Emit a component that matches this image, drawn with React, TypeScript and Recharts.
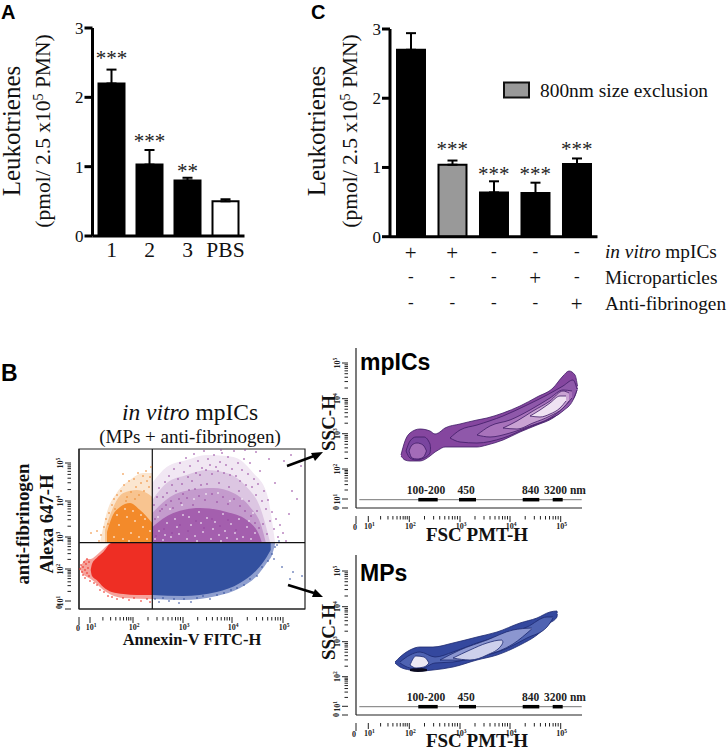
import { ReactNode } from "react";
import {
  Area,
  Bar,
  Cell,
  ComposedChart,
  ErrorBar,
  Line,
  ReferenceArea,
  ReferenceLine,
  Scatter,
  XAxis,
  YAxis,
} from "recharts";

const serif = "'Liberation Serif', serif";
const sans = "'Liberation Sans', sans-serif";

// panel A
const groupsA = ["1", "2", "3", "PBS"];
const valuesA = [2.2, 1.03, 0.8, 0.5];
const errorsA = [0.2, 0.21, 0.04, 0.03];
const starsA = ["***", "***", "**", ""];
const starLevelsA = [2.61, 1.41, 0.98, 0.7];
const fillsA = ["#000", "#000", "#000", "#fff"];

// panel C
const groupsC = ["a", "b", "c", "d", "e"];
const valuesC = [2.7, 1.04, 0.64, 0.63, 1.05];
const errorsC = [0.24, 0.06, 0.16, 0.15, 0.08];
const starsC = ["", "***", "***", "***", "***"];
const starLevelsC = [2.9, 1.31, 0.95, 0.95, 1.31];
const fillsC = ["#000", "#999", "#000", "#000", "#000"];
const rowMpics = ["+", "+", "-", "-", "-"];
const rowParticles = ["-", "-", "-", "+", "-"];
const rowAntibody = ["-", "-", "-", "-", "+"];

// flow plots, in display channels (0-226 across, 0-160 up)
type Band = [number, number, number];
type Pt = [number, number];

const redHaze: Band[] = [
  [1, 40, 41], [3, 36, 45], [8, 32, 50], [11.7, 30, 50], [17.7, 25, 54], [24.3, 19, 60], [32.7, 14, 66], [44.3, 11, 66], [73.3, 10, 66],
];
const redCore: Band[] = [
  [11.7, 39, 39], [13, 33, 45], [17.7, 29, 51], [24.3, 22, 57], [32.7, 17, 66], [44.3, 15, 66], [57.7, 14, 66], [73.3, 14, 66],
];
const blueHaze: Band[] = [
  [73.3, 10, 66], [104, 9, 66], [137.7, 13, 66], [161, 21, 66], [177.7, 33, 66], [187.7, 46, 66], [193.7, 56, 66], [196, 65, 66],
];
const blueCore: Band[] = [
  [73.3, 14, 66], [104, 13, 66], [137.7, 17, 66], [161, 26, 66], [177.7, 39, 66], [187.7, 52, 66], [191.7, 59, 66],
];
const orangeLevel1: Band[] = [
  [21, 66, 66], [27.7, 66, 96], [37.7, 66, 116], [51, 66, 129], [64.3, 66, 136], [73.3, 66, 136],
];
const orangeLevel2: Band[] = [
  [26, 66, 79], [34.3, 66, 102], [44.3, 66, 116], [57.7, 66, 119], [67.7, 66, 116], [73.3, 66, 112],
];
const orangeLevel3: Band[] = [
  [28, 66, 77], [33, 66, 92], [41, 66, 102], [51, 66, 106], [61, 66, 99], [73.3, 66, 86],
];
const purpleLevel1: Band[] = [
  [73.3, 66, 126], [87.7, 66, 142], [107.7, 66, 149], [127.7, 66, 154], [154.3, 66, 152], [174.3, 66, 136], [187.7, 66, 116], [196, 66, 67],
];
const purpleLevel2: Band[] = [
  [73.3, 66, 109], [87.7, 66, 126], [107.7, 66, 134], [127.7, 66, 139], [147.7, 66, 136], [167.7, 66, 122], [181, 66, 102], [191, 66, 67],
];
const purpleLevel3: Band[] = [
  [73.3, 66, 96], [91, 66, 112], [111, 66, 119], [134.3, 66, 121], [154.3, 66, 116], [171, 66, 102], [182.7, 66, 82], [186.7, 66, 67],
];
const purpleLevel4: Band[] = [
  [73.3, 66, 82], [94.3, 66, 96], [121, 66, 101], [147.7, 66, 97], [167.7, 66, 89], [181, 66, 72], [182.7, 66, 67],
];

const redDots: Pt[] = [
  [1, 40], [2, 44], [3, 37], [4, 42], [4, 34], [5, 47], [6, 39], [6, 31], [7, 45], [8, 36], [8, 50], [9, 41], [10, 33], [10, 47], [11, 28],
  [15, 26], [18, 24], [21, 19], [25, 17], [29, 13], [33, 12], [38, 10], [44, 11], [50, 9], [55, 11], [62, 8], [68, 10], [71, 7],
];
const blueDots: Pt[] = [
  [76, 10], [80, 7], [84, 11], [90, 8], [95, 10], [100, 6], [105, 10], [112, 7], [118, 11], [124, 13], [131, 10], [138, 14], [145, 16], [152, 19],
  [158, 21], [165, 24], [171, 30], [178, 33], [183, 42], [189, 48], [193, 55], [196, 62], [198, 64], [195, 50], [200, 68], [203, 42], [211, 30], [214, 37], [223, 33],
];
const orangeDots: Pt[] = [
  [20, 68], [22, 74], [25, 82], [27, 90], [30, 96], [33, 104], [35, 110], [38, 114], [42, 118], [45, 124], [48, 112], [50, 128], [52, 117], [55, 130], [57, 122],
  [59, 136], [60, 114], [62, 126], [64, 133], [65, 118], [67, 138], [68, 128], [70, 122], [71, 132], [72, 142], [56, 110], [47, 108], [36, 100], [44, 135], [29, 85], [12, 76], [18, 78],
];
const purpleDots: Pt[] = [
  [75, 104], [78, 112], [80, 121], [83, 100], [86, 127], [88, 116], [90, 133], [93, 124], [95, 140], [97, 118], [99, 130], [101, 146], [103, 125], [105, 137], [107, 151],
  [109, 132], [111, 143], [113, 128], [115, 155], [117, 136], [119, 148], [121, 134], [123, 141], [125, 158], [127, 139], [129, 150], [131, 144], [133, 135], [135, 154], [137, 142],
  [139, 138], [141, 147], [143, 156], [145, 136], [147, 144], [149, 152], [151, 134], [153, 140], [155, 158], [157, 133], [159, 146], [161, 128], [163, 139], [165, 150], [167, 124],
  [169, 135], [171, 146], [173, 122], [175, 130], [177, 114], [179, 125], [181, 138], [183, 108], [185, 118], [187, 100], [189, 109], [191, 88], [193, 97], [195, 80], [197, 90],
  [199, 72], [201, 84], [204, 76], [207, 68], [210, 95], [213, 118], [218, 110], [222, 143], [212, 154], [205, 148], [196, 126], [190, 150], [177, 157], [166, 159], [142, 159],
  [84, 112], [92, 108], [104, 115], [116, 120], [128, 125], [140, 126], [150, 122], [160, 118], [170, 108], [178, 98], [184, 85], [188, 75], [100, 110], [110, 119], [122, 124],
  [76, 90], [81, 98], [87, 104], [94, 101], [102, 106], [108, 111], [114, 104], [120, 113], [126, 109], [133, 115], [138, 107], [144, 112], [149, 105], [155, 110], [161, 103],
  [166, 98], [172, 93], [176, 86], [180, 81], [77, 73], [85, 80], [93, 76], [101, 84], [109, 78], [117, 88], [125, 81], [133, 90], [141, 83], [149, 89], [157, 79],
];
const purpleSpecks: Pt[] = [
  [76, 70], [80, 78], [84, 69], [88, 86], [92, 72], [96, 90], [100, 75], [104, 94], [108, 70], [112, 84], [116, 73], [120, 97], [124, 77], [128, 91], [132, 70],
  [136, 87], [140, 74], [144, 95], [148, 71], [152, 85], [156, 76], [160, 90], [164, 72], [168, 82], [172, 70], [176, 76], [79, 92], [91, 100], [103, 104], [115, 110],
  [127, 115], [139, 116], [151, 108], [163, 110], [174, 96], [98, 82], [110, 92], [122, 86], [134, 80], [146, 78], [158, 70], [170, 88], [86, 74], [118, 68], [142, 68],
];
const orangeSpecks: Pt[] = [
  [35, 72], [40, 84], [44, 70], [48, 92], [52, 76], [56, 88], [60, 72], [64, 82], [68, 70], [71, 78], [38, 94], [46, 100], [54, 98], [62, 94], [66, 90], [50, 68],
];

const ticksXDot = [11, 54, 104, 153, 204];
const ticksYDot = [8, 40, 72, 108, 146];
const ticksXTop = [12.3, 53.3, 104, 154, 204.7];
const ticksYTop = [9, 39, 74.3, 109.3, 145];
const ticksYBottom = [8.7, 38.3, 73.3, 108.3, 144];
const decadeSteps = [0.3, 0.48, 0.6, 0.7, 0.78, 0.85, 0.9, 0.95];

// mpICs contours
const mpOuter: Band[] = [
  [45, 52, 53], [49, 48, 67], [54, 47, 75], [64, 47, 79], [74, 52, 77], [79, 56, 74], [82.3, 58, 75], [89, 61, 80], [104, 61, 84], [121, 61, 88], [131, 63, 90],
  [147, 68, 95], [164, 76, 102], [181, 83, 111], [197, 90, 120], [207, 98, 132], [213, 105, 137], [219, 112, 133], [221.5, 120, 122],
];
const mpBlobMid: Band[] = [[50, 57, 57], [54, 50, 67], [60, 48, 71], [68, 50, 71], [74, 55, 64], [74.5, 60, 60]];
const mpBlobIn: Band[] = [[53, 57, 57], [56, 50, 63], [61, 49, 65], [67, 50.5, 63], [70.5, 57, 57]];
const mpTail2: Band[] = [[94, 70, 70], [104, 66, 78], [121, 65, 83], [147, 70, 92], [171, 80, 103], [191, 88, 113], [207, 97, 122], [217, 108, 128], [221, 118, 119]];
const mpTail3: Band[] = [[121, 73, 73], [134, 71, 82], [154, 75, 88], [174, 82, 98], [194, 90, 110], [207, 100, 118], [216, 110, 117]];
const mpTail4: Band[] = [[147, 80, 80], [161, 79, 87], [177, 85, 97], [194, 92, 107], [207, 100, 117], [213, 107, 115]];
const mpTail5: Band[] = [[174, 92, 92], [184, 91, 98], [194, 94, 105], [204, 100, 112], [210, 107, 112]];

// MPs contours
const mvOuter: Band[] = [
  [39, 52, 53], [44, 48, 58], [54, 45, 65], [64, 44, 68], [77, 45, 68], [97, 48, 72], [121, 55, 78], [141, 60, 83], [164, 70, 92], [181, 80, 97], [194, 92, 103], [201, 98, 104], [201.3, 101, 102],
];
const mvMid: Band[] = [
  [44, 52, 53], [54, 47, 60], [64, 46, 63], [79, 52, 58], [97, 53, 63], [121, 58, 72], [147, 65, 80], [171, 77, 88], [191, 88, 98], [197, 97, 98],
];
const mvInner: Band[] = [[84, 55, 55], [104, 55, 65], [131, 60, 75], [157, 71, 85], [175.7, 86, 87]];
const mvPale: Band[] = [[97, 57, 57], [114, 55, 65], [131, 60, 72], [145.7, 70, 75], [147, 73, 73]];
const mvSpot: Band[] = [[54, 50, 50], [60, 47, 59], [68, 48, 58], [73, 52, 52]];
const mvDark: Band[] = [[54, 44, 46], [62, 43, 47], [71, 44, 46]];

// bead size scale
const sizeScaleRange = [3.3, 225.7];
const sizeScaleLevel = 8.3;
const sizeMarkers = [[62.3, 81.7], [103, 120], [166.7, 183.3], [196.7, 206.7]];

const toRows = (rows: Band[]) => rows.map(([x, lo, hi]) => ({ x, band: [lo, hi] }));
const toPoints = (rows: Pt[]) => rows.map(([x, y]) => ({ x, y }));
const withMinors = (majors: number[]) => {
  const out: number[] = [0];
  majors.forEach((m, i) => {
    out.push(m);
    const next = majors[i + 1];
    if (next) decadeSteps.forEach((s) => out.push(m + (next - m) * s));
  });
  return out;
};

function barRows(groups: string[], values: number[], errors: number[], stars: string[], levels: number[]) {
  return groups.map((g, i) => ({ g, value: values[i], err: [0, errors[i]], stars: stars[i], level: levels[i] }));
}

function starDot(props: any) {
  const { cx, cy, payload, index } = props;
  return (
    <text key={index} x={cx} y={cy + 10} textAnchor="middle" fontFamily={serif} fontSize={21} fill="#222">
      {payload.stars}
    </text>
  );
}

function BarPanel({ left, top, plotWidth, plotHeight, yWidth, rows, fills, barSize, xTick }: any) {
  return (
    <div style={{ position: "absolute", left, top }}>
      <ComposedChart width={yWidth + plotWidth + 4} height={plotHeight + 110} data={rows} margin={{ top: 10, right: 4, bottom: 0, left: 0 }}>
        <XAxis dataKey="g" interval={0} height={100} stroke="#000" strokeWidth={3} tickLine={false} tick={xTick} />
        <YAxis
          width={yWidth}
          domain={[0, 3]}
          ticks={[0, 1, 2, 3]}
          stroke="#000"
          strokeWidth={3}
          tickSize={8}
          tickMargin={1}
          tick={{ fontFamily: serif, fontSize: 17, fill: "#111" }}
        />
        <Bar dataKey="value" barSize={barSize} stroke="#000" strokeWidth={2} isAnimationActive={false}>
          {fills.map((f: string, i: number) => (
            <Cell key={i} fill={f} />
          ))}
          <ErrorBar dataKey="err" width={5} stroke="#000" strokeWidth={2} isAnimationActive={false} />
        </Bar>
        <Line dataKey="level" stroke="none" dot={starDot} activeDot={false} isAnimationActive={false} />
      </ComposedChart>
    </div>
  );
}

function labelA(props: any) {
  const { x, y, payload } = props;
  return (
    <text x={x} y={y + 13} textAnchor="middle" fontFamily={serif} fontSize={21.5} fill="#111">
      {payload.value}
    </text>
  );
}

function labelC(props: any) {
  const { x, y, index } = props;
  const rows = [rowMpics, rowParticles, rowAntibody];
  const levels = [8, 33, 59];
  return (
    <g>
      {rows.map((row, r) => {
        const plus = row[index] === "+";
        return (
          <text key={r} x={x} y={y + levels[r] + (plus ? 7 : 4)} textAnchor="middle" fontFamily={serif} fontSize={plus ? 21 : 17} fill="#111">
            {row[index]}
          </text>
        );
      })}
    </g>
  );
}

function xFlowTick(majors: number[]) {
  return (props: any) => {
    const { x, y, payload } = props;
    const i = majors.indexOf(payload.value);
    const long = i >= 0 || payload.value === 0;
    return (
      <g>
        <line x1={x} x2={x} y1={y} y2={y + (payload.value === 0 ? 8 : long ? 6 : 3.5)} stroke="#222" strokeWidth={1} />
        {i >= 0 && (
          <text x={x + 1} y={y + 13} textAnchor="middle" fontFamily={serif} fontWeight="bold" fontSize={8} fill="#222">
            10<tspan dy={-3} fontSize={5.5}>{i + 1}</tspan>
          </text>
        )}
      </g>
    );
  };
}

function yFlowTick(majors: number[]) {
  return (props: any) => {
    const { x, y, payload } = props;
    const i = majors.indexOf(payload.value);
    const long = i >= 0 || payload.value === 0;
    return (
      <g>
        <line x1={x} x2={x - (long ? 6 : 3.5)} y1={y} y2={y} stroke="#222" strokeWidth={1} />
        {i >= 0 && (
          <text transform={`translate(${x - 8} ${y}) rotate(-90)`} textAnchor="middle" fontFamily={serif} fontWeight="bold" fontSize={8} fill="#222">
            10<tspan dy={-3} fontSize={5.5}>{i + 1}</tspan>
          </text>
        )}
      </g>
    );
  };
}

function FlowChart({ left, top, xMajor, yMajor, children }: { left: number; top: number; xMajor: number[]; yMajor: number[]; children: ReactNode }) {
  return (
    <div style={{ position: "absolute", left: left - 30, top: top - 4 }}>
      <ComposedChart width={260} height={194} margin={{ top: 4, right: 4, bottom: 0, left: 0 }}>
        <XAxis
          type="number"
          dataKey="x"
          domain={[0, 226]}
          ticks={withMinors(xMajor)}
          interval={0}
          height={30}
          stroke="#222"
          strokeWidth={1.2}
          tickLine={false}
          tick={xFlowTick(xMajor)}
        />
        <YAxis
          type="number"
          domain={[0, 160]}
          ticks={withMinors(yMajor)}
          interval={0}
          width={30}
          stroke="#222"
          strokeWidth={1.2}
          tickLine={false}
          tick={yFlowTick(yMajor)}
        />
        {children}
      </ComposedChart>
    </div>
  );
}

const band = (key: string, rows: Band[], fill: string, stroke = "none") => (
  <Area
    key={key}
    data={toRows(rows)}
    dataKey="band"
    type="monotone"
    fill={fill}
    fillOpacity={1}
    stroke={stroke}
    strokeWidth={0.8}
    dot={false}
    activeDot={false}
    isAnimationActive={false}
  />
);

const dots = (key: string, rows: Pt[], fill: string) => (
  <Scatter
    key={key}
    data={toPoints(rows)}
    dataKey="y"
    isAnimationActive={false}
    shape={(p: any) => <rect x={p.cx - 0.7} y={p.cy - 0.7} width={1.4} height={1.4} fill={fill} />}
  />
);

const beadScale = () => [
  <Line
    key="scale"
    data={sizeScaleRange.map((x) => ({ x, y: sizeScaleLevel }))}
    dataKey="y"
    stroke="#777"
    strokeWidth={1}
    dot={false}
    activeDot={false}
    isAnimationActive={false}
  />,
  ...sizeMarkers.map((m, i) => (
    <Line
      key={`bead${i}`}
      data={m.map((x) => ({ x, y: sizeScaleLevel }))}
      dataKey="y"
      stroke="#000"
      strokeWidth={3.5}
      dot={false}
      activeDot={false}
      isAnimationActive={false}
    />
  )),
];

function BeadLabels({ dy }: { dy: number }) {
  const items: [string, number][] = [["100-200", 426], ["450", 466], ["840", 530.5], ["3200 nm", 544]];
  return (
    <>
      {items.map(([t, x]) => (
        <text key={t} x={x} y={dy} fontFamily={serif} fontWeight="bold" fontSize={11.5} textAnchor={t === "3200 nm" ? "start" : "middle"} fill="#222">
          {t}
        </text>
      ))}
    </>
  );
}

function Vert({ x, y, size, bold, children }: { x: number; y: number; size: number; bold?: boolean; children: ReactNode }) {
  return (
    <text transform={`translate(${x} ${y}) rotate(-90)`} textAnchor="middle" fontFamily={serif} fontSize={size} fontWeight={bold ? "bold" : "normal"} fill="#111">
      {children}
    </text>
  );
}

function Leuko({ x1, x2, cy }: { x1: number; x2: number; cy: number }) {
  return (
    <>
      <Vert x={x1} y={cy} size={25}>Leukotrienes</Vert>
      <Vert x={x2} y={cy} size={21.5}>
        (pmol/ 2.5 x10<tspan dy={-7} fontSize={14}>5</tspan>
        <tspan dy={7}> PMN)</tspan>
      </Vert>
    </>
  );
}

function Overlay() {
  return (
    <svg width={728} height={749} style={{ position: "absolute", left: 0, top: 0, pointerEvents: "none" }}>
      <text x={1} y={18.5} fontFamily={sans} fontWeight="bold" fontSize={20} fill="#000">A</text>
      <text x={311} y={18.5} fontFamily={sans} fontWeight="bold" fontSize={20} fill="#000">C</text>
      <text x={1} y={381} fontFamily={sans} fontWeight="bold" fontSize={23} fill="#000">B</text>

      <Leuko x1={20} x2={50} cy={131} />
      <Leuko x1={325} x2={357} cy={131} />

      <rect x={504} y={82.5} width={25} height={15} fill="#999" stroke="#111" strokeWidth={2} />
      <text x={540} y={97} fontFamily={serif} fontSize={19.4} fill="#111">800nm size exclusion</text>
      <text x={605} y={258} fontFamily={serif} fontSize={19.3} fill="#111">
        <tspan fontStyle="italic">in vitro</tspan> mpICs
      </text>
      <text x={605} y={284} fontFamily={serif} fontSize={19.3} fill="#111">Microparticles</text>
      <text x={605} y={310} fontFamily={serif} fontSize={19.3} fill="#111">Anti-fibrinogen</text>

      <text x={190} y={420} textAnchor="middle" fontFamily={serif} fontSize={23.5} fill="#111">
        <tspan fontStyle="italic">in vitro</tspan> mpICs
      </text>
      <text x={190} y={443} textAnchor="middle" fontFamily={serif} fontSize={19} fill="#111">(MPs + anti-fibrinogen)</text>
      <Vert x={29} y={524} size={18.8} bold>anti-fibrinogen</Vert>
      <Vert x={52.5} y={524} size={18.7} bold>Alexa 647-H</Vert>
      <text x={192} y={645} textAnchor="middle" fontFamily={serif} fontWeight="bold" fontSize={16.5} fill="#111">Annexin-V FITC-H</text>
      <text x={78} y={631} textAnchor="middle" fontFamily={serif} fontWeight="bold" fontSize={8} fill="#222">0</text>
      <Vert x={62} y={607} size={8} bold>0</Vert>

      <line x1={287} y1={466} x2={314} y2={456} stroke="#000" strokeWidth={2.5} />
      <polygon points="323,452 311,453 315,461" fill="#000" />
      <line x1={288} y1={585} x2={314} y2={593} stroke="#000" strokeWidth={2.5} />
      <polygon points="323,597 312,597 315,589" fill="#000" />

      <text x={360} y={370} fontFamily={sans} fontWeight="bold" fontSize={23} fill="#000">mpICs</text>
      <Vert x={335} y={423} size={19} bold>SSC-H</Vert>
      <text x={477} y={541} textAnchor="middle" fontFamily={serif} fontWeight="bold" fontSize={19} fill="#111">FSC PMT-H</text>
      <text x={355} y={530} textAnchor="middle" fontFamily={serif} fontWeight="bold" fontSize={8} fill="#222">0</text>
      <Vert x={339} y={508} size={8} bold>0</Vert>
      <BeadLabels dy={494} />

      <text x={360} y={581} fontFamily={sans} fontWeight="bold" fontSize={23} fill="#000">MPs</text>
      <Vert x={335} y={632} size={19} bold>SSC-H</Vert>
      <text x={477} y={747} textAnchor="middle" fontFamily={serif} fontWeight="bold" fontSize={19} fill="#111">FSC PMT-H</text>
      <text x={354} y={737} textAnchor="middle" fontFamily={serif} fontWeight="bold" fontSize={8} fill="#222">0</text>
      <Vert x={339} y={715} size={8} bold>0</Vert>
      <BeadLabels dy={701} />
    </svg>
  );
}

export default function App() {
  return (
    <div style={{ position: "fixed", left: 0, top: 0, width: 728, height: 749, background: "#fff", overflow: "hidden" }}>
      <BarPanel
        left={0}
        top={18}
        plotWidth={152}
        plotHeight={208}
        yWidth={92.5}
        rows={barRows(groupsA, valuesA, errorsA, starsA, starLevelsA)}
        fills={fillsA}
        barSize={26}
        xTick={labelA}
      />
      <BarPanel
        left={0}
        top={19}
        plotWidth={207.5}
        plotHeight={207.7}
        yWidth={390}
        rows={barRows(groupsC, valuesC, errorsC, starsC, starLevelsC)}
        fills={fillsC}
        barSize={28}
        xTick={labelC}
      />

      <FlowChart left={79} top={449} xMajor={ticksXDot} yMajor={ticksYDot}>
        {band("ol1", orangeLevel1, "#fbe6d0")}
        {band("ol2", orangeLevel2, "#f8c490")}
        {band("ol3", orangeLevel3, "#f38a2a")}
        {band("pl1", purpleLevel1, "#f1e7f3")}
        {band("pl2", purpleLevel2, "#dcc6e2")}
        {band("pl3", purpleLevel3, "#c49bcd")}
        {band("pl4", purpleLevel4, "#a45fae")}
        {band("rh", redHaze, "#f6a29b")}
        {band("r", redCore, "#ee2e24")}
        {band("bh", blueHaze, "#8f9fcf")}
        {band("b", blueCore, "#33509f")}
        {dots("rd", redDots, "#ee2e24")}
        {dots("bd", blueDots, "#33509f")}
        {dots("od", orangeDots, "#ef8a30")}
        {dots("os", orangeSpecks, "#fff")}
        {dots("pd", purpleDots, "#96479f")}
        {dots("ps", purpleSpecks, "#fff")}
        <ReferenceArea x1={0} x2={226} y1={0} y2={160} fill="none" stroke="#222" strokeWidth={1.2} />
        <ReferenceLine x={73.3} stroke="#111" strokeWidth={1.2} />
        <ReferenceLine y={66.3} stroke="#111" strokeWidth={1.2} />
      </FlowChart>

      <FlowChart left={356} top={348} xMajor={ticksXTop} yMajor={ticksYTop}>
        {band("m0", mpOuter, "#85469f", "#3f1c66")}
        {band("m1", mpBlobMid, "#7a459f", "#3f1c66")}
        {band("m2", mpBlobIn, "#a36cb8", "#3f1c66")}
        {band("m3", mpTail2, "#8f58aa", "#3f1c66")}
        {band("m4", mpTail3, "#a873bb", "#3f1c66")}
        {band("m5", mpTail4, "#c9a3d3", "#3f1c66")}
        {band("m6", mpTail5, "#efe2f2", "#3f1c66")}
        {beadScale()}
      </FlowChart>

      <FlowChart left={356} top={555} xMajor={ticksXTop} yMajor={ticksYBottom}>
        {band("v0", mvOuter, "#34489e", "#1d2a70")}
        {band("v1", mvMid, "#4f63b2", "#1d2a70")}
        {band("v2", mvInner, "#8b96d0", "#1d2a70")}
        {band("v3", mvPale, "#cdd0ec", "#1d2a70")}
        {band("v4", mvDark, "#0b0b20")}
        {band("v5", mvSpot, "#ece9f4", "#1d2a70")}
        {beadScale()}
      </FlowChart>

      <Overlay />
    </div>
  );
}
